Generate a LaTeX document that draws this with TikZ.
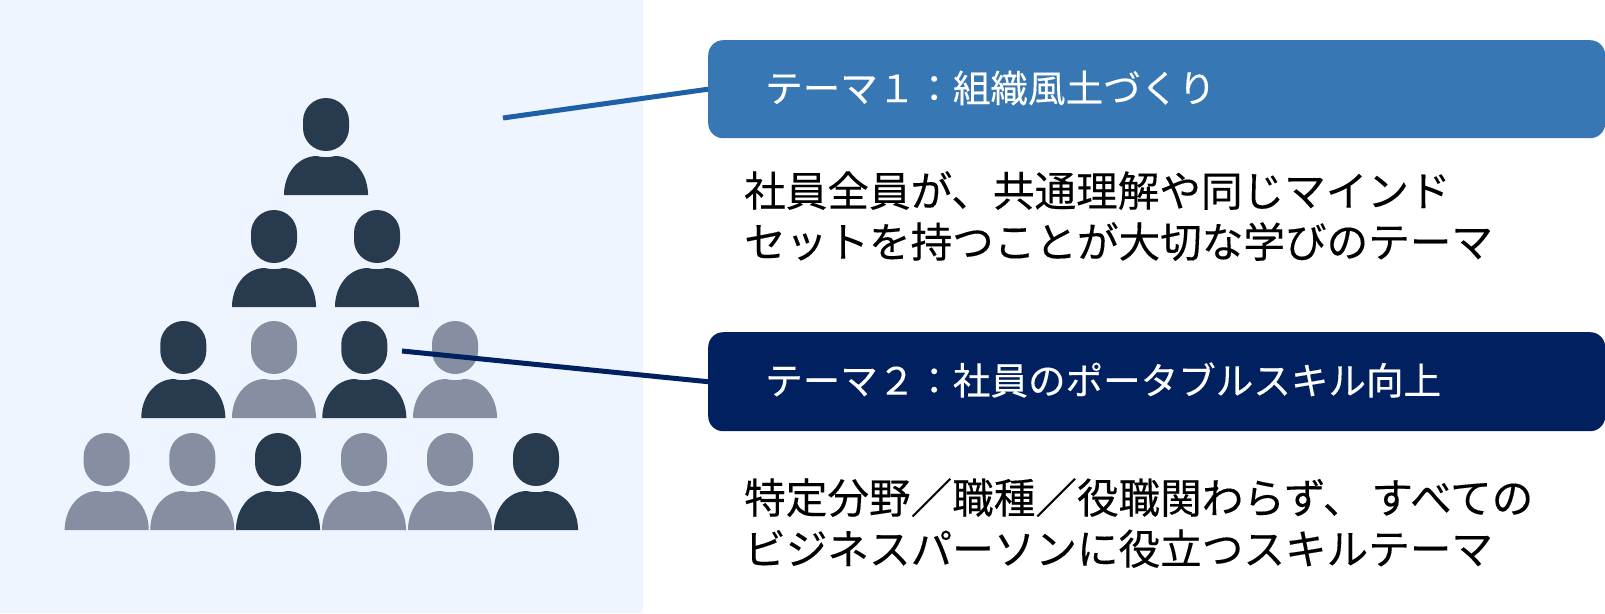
\documentclass[tikz,border=0pt]{standalone}
\usepackage{fontspec}
\setmainfont{Noto Sans CJK JP}[FakeBold=0.25]
\definecolor{panelbg}{HTML}{EEF5FF}
\definecolor{boxone}{HTML}{3778B4}
\definecolor{boxtwo}{HTML}{002060}
\definecolor{lineone}{HTML}{1F5FA5}
\definecolor{darkp}{HTML}{283B4E}
\definecolor{greyp}{HTML}{868EA1}
\tikzset{
  themebox/.style={rounded corners=15pt,minimum width=897pt,minimum height=98pt,inner sep=0pt,anchor=north west},
  themetext/.style={text=white,font=\fontsize{37.55pt}{44pt}\selectfont,inner sep=0pt,anchor=west},
  desctext/.style={text=black,font=\fontsize{41.6pt}{51pt}\selectfont,inner sep=0pt,anchor=north west,align=left},
  connector/.style={line width=5pt},
}
\newcommand{\personfig}[3]{%
  \fill[#3,rounded corners=23pt] (#1-23,#2) rectangle (#1+23,#2+53);
  \fill[#3] (#1-42,#2+97) -- (#1-42,#2+95)
    .. controls (#1-41,#2+74) and (#1-27,#2+58) .. (#1-9,#2+58)
    .. controls (#1-5,#2+59.6) and (#1+5,#2+59.6) .. (#1+9,#2+58)
    .. controls (#1+27,#2+58) and (#1+41,#2+74) .. (#1+42,#2+95)
    -- (#1+42,#2+97) -- cycle;
}
\begin{document}
\begin{tikzpicture}[x=1pt,y=-1pt]
\useasboundingbox (0,0) rectangle (1605,613);
\fill[panelbg] (0,0) rectangle (643,613);
\personfig{326}{98}{darkp}
\personfig{274}{210}{darkp}
\personfig{377}{210}{darkp}
\personfig{183.3}{321}{darkp}
\personfig{274}{321}{greyp}
\personfig{364.3}{321}{darkp}
\personfig{455}{321}{greyp}
\personfig{106.7}{433}{greyp}
\personfig{192.3}{433}{greyp}
\personfig{278}{433}{darkp}
\personfig{364}{433}{greyp}
\personfig{450}{433}{greyp}
\personfig{536}{433}{darkp}
\node[themebox,fill=boxone] (box1) at (708,40) {};
\node[themebox,fill=boxtwo,minimum height=99pt] (box2) at (708,332) {};
\coordinate (c1) at (503,118);
\coordinate (c2) at (402,351);
\draw[connector,lineone] (c1) -- (box1.west);
\draw[connector,boxtwo] (c2) -- (box2.west);
\node[themetext] (t1) at (765,88) {テーマ１：組織風土づくり};
\node[themetext] (t2) at (765,380) {テーマ２：社員のポータブルスキル向上};
\node[desctext] (d1) at (744,171) {社員全員が、共通理解や同じマインド\\セットを持つことが大切な学びのテーマ};
\node[desctext] (d2) at (744,478) {特定分野／職種／役職関わらず、\kern7pt すべての\\ビジネスパーソンに役立つスキルテーマ};
\end{tikzpicture}
\end{document}
